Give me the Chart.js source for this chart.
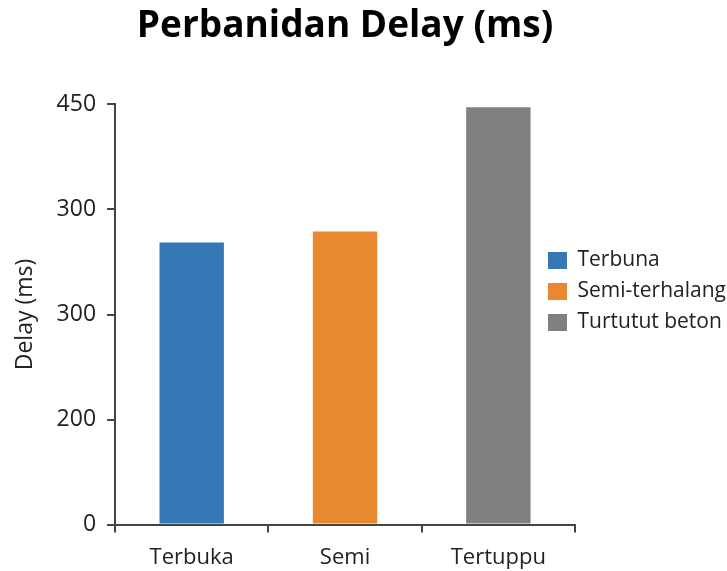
<!DOCTYPE html>
<html>
<head>
<meta charset="utf-8">
<script src="https://cdn.jsdelivr.net/npm/chart.js@4.4.1/dist/chart.umd.min.js"></script>
<style>
  html, body { margin: 0; padding: 0; background: #fff; }
  #wrap { width: 727px; height: 571px; }
</style>
</head>
<body>
<div id="wrap"><canvas id="delayChart" width="727" height="571"></canvas></div>
<script>
// data
const categories = ['Terbuka', 'Semi', 'Tertuppu'];
const legendNames = ['Terbuna', 'Semi-terhalang', 'Turtutut beton'];
const delayValues = [302, 314, 447];
const barColors = ['#3677b5', '#e8892f', '#808080'];
const yTickLabels = ['0', '200', '300', '300', '450'];

const FONT = "'Open Sans', 'Liberation Sans', sans-serif";

// one dataset per bar so the legend gets its own names
const datasets = delayValues.map((v, i) => ({
    label: legendNames[i],
    data: categories.map((_, j) => j === i ? v : null),
    backgroundColor: barColors[i],
    borderWidth: 0,
    categoryPercentage: 1,
    barPercentage: 0.42
}));

// legend overlaps the plot edge a bit in the original, so nudge it left
const legendShift = {
    id: 'legendShift',
    afterLayout(chart) {
        const l = chart.legend;
        if (!l) return;
        l.left -= 37;
    }
};

new Chart(document.getElementById('delayChart'), {
    type: 'bar',
    data: { labels: categories, datasets: datasets },
    plugins: [legendShift],
    options: {
        responsive: false,
        animation: false,
        skipNull: true,
        layout: { padding: { left: 0, right: 0, top: 0, bottom: -12 } },
        plugins: {
            title: {
                display: true,
                fullSize: false,
                text: 'Perbanidan Delay (ms)',
                color: '#000',
                font: { family: FONT, size: 37, weight: 'bold' },
                padding: { top: 4, bottom: 56 }
            },
            legend: {
                position: 'right',
                maxWidth: 152,
                labels: {
                    boxWidth: 19,
                    boxHeight: 17,
                    padding: 10,
                    color: '#222',
                    font: { family: FONT, size: 21 }
                }
            },
            tooltip: { enabled: false }
        },
        scales: {
            x: {
                grid: {
                    display: true,
                    drawOnChartArea: false,
                    offset: true,
                    tickLength: 8,
                    color: '#444',
                    lineWidth: 2
                },
                border: { color: '#444', width: 2 },
                ticks: {
                    color: '#222',
                    padding: 12,
                    font: { family: FONT, size: 22 }
                }
            },
            y: {
                min: 0,
                max: 450,
                grid: {
                    display: true,
                    drawOnChartArea: false,
                    tickLength: 8,
                    color: '#444',
                    lineWidth: 2
                },
                border: { color: '#444', width: 2 },
                ticks: {
                    stepSize: 112.5,
                    color: '#222',
                    padding: 11,
                    font: { family: FONT, size: 23 },
                    callback: (val, idx) => yTickLabels[idx]
                },
                title: {
                    display: true,
                    text: 'Delay (ms)',
                    color: '#222',
                    font: { family: FONT, size: 23 },
                    padding: { top: 12, bottom: 6 }
                }
            }
        }
    }
});
</script>
</body>
</html>
